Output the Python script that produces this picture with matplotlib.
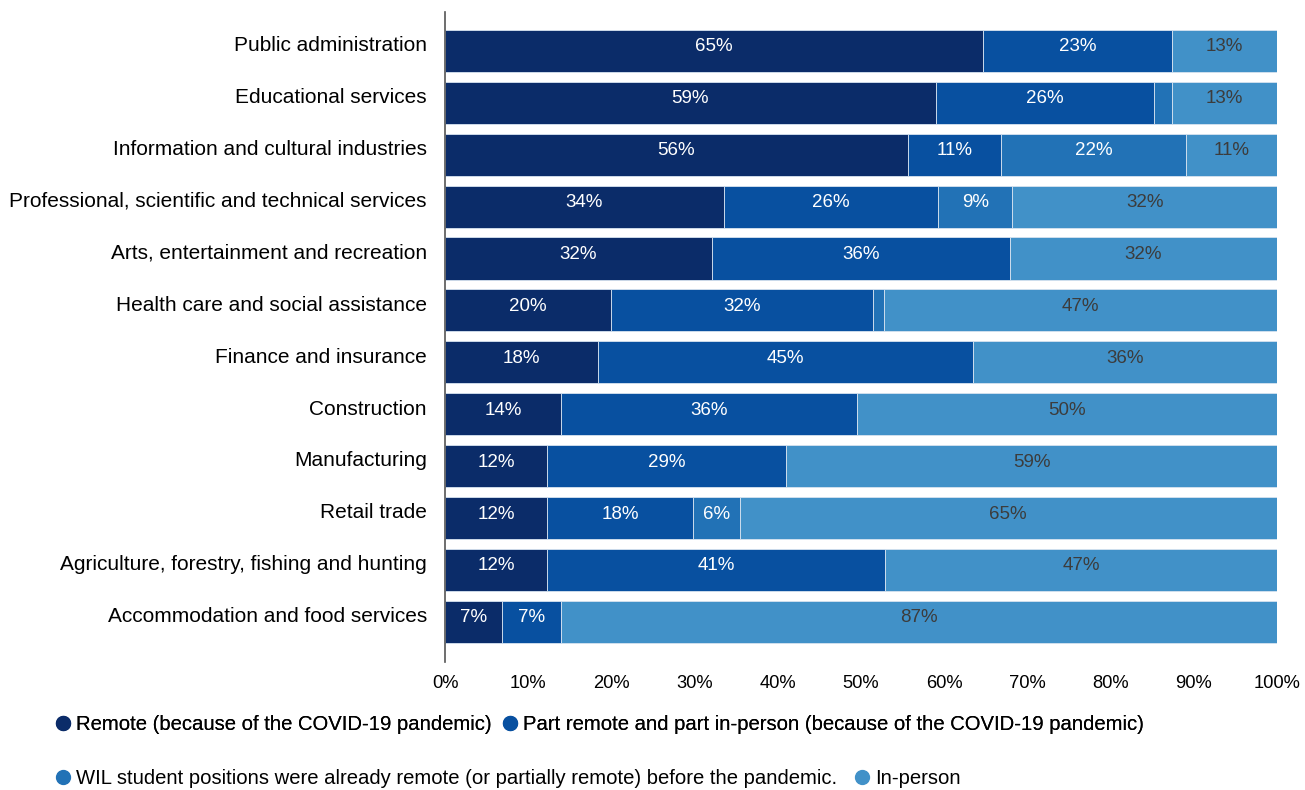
import matplotlib.pyplot as plt
from matplotlib.lines import Line2D
import numpy as np

plt.rcParams['font.family'] = ['Liberation Sans', 'DejaVu Sans']

industries = [
    "Public administration",
    "Educational services",
    "Information and cultural industries",
    "Professional, scientific and technical services",
    "Arts, entertainment and recreation",
    "Health care and social assistance",
    "Finance and insurance",
    "Construction",
    "Manufacturing",
    "Retail trade",
    "Agriculture, forestry, fishing and hunting",
    "Accommodation and food services",
]

remote = [64.7, 59.0, 55.6, 33.5, 32.1, 20.0, 18.4, 13.9, 12.3, 12.3, 12.3, 6.9]
part_remote = [22.7, 26.2, 11.2, 25.8, 35.8, 31.5, 45.1, 35.6, 28.7, 17.5, 40.6, 7.1]
already_remote = [0.0, 2.2, 22.3, 8.9, 0.0, 1.3, 0.0, 0.0, 0.0, 5.6, 0.0, 0.0]
in_person = [12.6, 12.6, 10.9, 32.1, 32.1, 47.2, 36.5, 50.5, 59.0, 64.6, 47.1, 86.6]

series_names = [
    "Remote (because of the COVID-19 pandemic)",
    "Part remote and part in-person (because of the COVID-19 pandemic)",
    "WIL student positions were already remote (or partially remote) before the pandemic.",
    "In-person",
]
colors = ["#0b2c69", "#0850a0", "#2272b6", "#4191c8"]
label_colors = ["white", "white", "white", "#3c3c3c"]

fig = plt.figure(figsize=(13.05, 7.9), dpi=100)
ax = fig.add_axes([0.341, 0.162, 0.6375, 0.823])

y = np.arange(len(industries))
left = np.zeros(len(industries))
for vals, color, tcolor in zip([remote, part_remote, already_remote, in_person], colors, label_colors):
    vals = np.array(vals)
    ax.barh(y, vals, left=left, height=0.81, color=color, edgecolor="#d7e3f0", linewidth=0.6)
    for yi, v, l in zip(y, vals, left):
        if v >= 4:
            ax.text(min(l + v / 2, 100 - (100 - l) / 2), yi - 0.08, f"{v:.0f}%",
                    ha="center", va="center", color=tcolor, fontsize=13.5)
    left += vals

ax.set_ylim(11.77, -0.75)
ax.set_xlim(0, 100)
# category names sit a little above the bar centres
ax.set_yticks(y - 0.14)
ax.set_yticklabels(industries, fontsize=15)
ax.tick_params(axis="y", length=0, pad=13)
ax.set_xticks(np.arange(0, 101, 10))
ax.set_xticklabels([f"{t}%" for t in range(0, 101, 10)], fontsize=13.2)
ax.tick_params(axis="x", length=0, pad=9)
for s in ["top", "right", "bottom"]:
    ax.spines[s].set_visible(False)
ax.spines["left"].set_color("#555555")
ax.spines["left"].set_linewidth(1.2)

handles = [Line2D([], [], marker="o", linestyle="", markersize=10, color=c) for c in colors]
leg1 = fig.legend(handles[:2], series_names[:2], loc="center left", bbox_to_anchor=(0.034, 0.083),
                  ncol=2, frameon=False, fontsize=14.6, handletextpad=0.15, columnspacing=0.4,
                  handlelength=1.0, borderaxespad=0)
fig.add_artist(leg1)
fig.legend(handles[2:], series_names[2:], loc="center left", bbox_to_anchor=(0.034, 0.014),
           ncol=2, frameon=False, fontsize=14.6, handletextpad=0.15, columnspacing=0.75,
           handlelength=1.0, borderaxespad=0)

fig.savefig("out.png", dpi=100)
